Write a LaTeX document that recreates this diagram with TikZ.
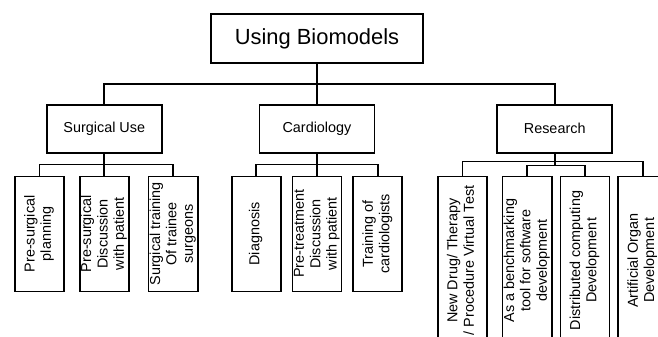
\documentclass[tikz,border=0pt]{standalone}
\usepackage{fontspec}
\setmainfont{Liberation Sans}
\usepackage{graphicx}
\usepackage{tikz}
\usetikzlibrary{positioning}

\newcommand{\uprot}[1]{\rotatebox{90}{\begin{tabular}{@{}c@{}}#1\end{tabular}}}

\begin{document}
\begin{tikzpicture}[
  x=1pt, y=-1pt,
  line width=1.7pt,
  rootbox/.style={rectangle, draw, inner sep=0pt, minimum width=212pt, minimum height=49pt,
                  font=\fontsize{21.9}{26}\selectfont},
  catbox/.style={rectangle, draw, inner sep=0pt, minimum width=115pt, minimum height=48pt,
                 font=\fontsize{14.4}{16}\selectfont},
  leafbox/.style={rectangle, draw, inner sep=0pt, minimum width=49pt, minimum height=115pt,
                  font=\fontsize{14.4}{16.4}\selectfont},
  tallbox/.style={leafbox, minimum height=168pt}
]
\useasboundingbox (0,0) rectangle (658,337);
\clip (0,0) rectangle (658,337);

% --- Top: root and the three uses ---
\node[rootbox] (using) at (317,38.5) {Using Biomodels};

\node[catbox, below=40pt of using] (cardio) {Cardiology};
\node[catbox, left=96pt of cardio] (surgical) {Surgical Use};
\node[catbox, right=121pt of cardio] (research) {Research};

% --- Surgical use ---
\node[leafbox, below=22pt of surgical] (surgdisc) {\uprot{Pre-surgical\\Discussion\\with patient}};
\node[leafbox, left=14pt of surgdisc] (surgplan) {\uprot{Pre-surgical\\planning}};
\node[leafbox, right=18pt of surgdisc] (surgtrain) {\uprot{Surgical training\\Of trainee\\surgeons}};

% --- Cardiology ---
\node[leafbox, below=22pt of cardio] (cardisc) {\uprot{Pre-treatment\\Discussion\\with patient}};
\node[leafbox, left=10pt of cardisc] (diagnosis) {\uprot{Diagnosis}};
\node[leafbox, right=10pt of cardisc] (cartrain) {\uprot{Training of\\cardiologists}};

% --- Research ---
\node[tallbox, below=22pt of research, xshift=-27.5pt] (bench) {\uprot{As a benchmarking\\tool for software\\development}};
\node[tallbox, left=14pt of bench] (drug) {\uprot{New Drug/ Therapy\\/ Procedure Virtual Test}};
\node[tallbox, right=7pt of bench] (distrib) {\uprot{Distributed computing\\Development}};
\node[tallbox, right=7pt of distrib] (organ) {\uprot{Artificial Organ\\Development}};

% --- Connectors ---
\draw (using.south) -- ++(0,20) -| (surgical.north);
\draw (using.south) -- ++(0,20) -| (cardio.north);
\draw (using.south) -- ++(0,20) -| (research.north);

\draw (surgical.south) -- ++(0,11) -| (surgplan.north);
\draw (surgical.south) -- (surgdisc.north);
\draw (surgical.south) -- ++(0,11) -| (surgtrain.north);

\draw (cardio.south) -- ++(0,11) -| (diagnosis.north);
\draw (cardio.south) -- (cardisc.north);
\draw (cardio.south) -- ++(0,11) -| (cartrain.north);

\draw (research.south) -- ++(0,8) -| (drug.north);
\draw (research.south) -- ++(0,8) -| (organ.north);
\draw (research.south) -- ++(0,12) -| (bench.north);
\draw (research.south) -- ++(0,12) -| (distrib.north);

\end{tikzpicture}
\end{document}
